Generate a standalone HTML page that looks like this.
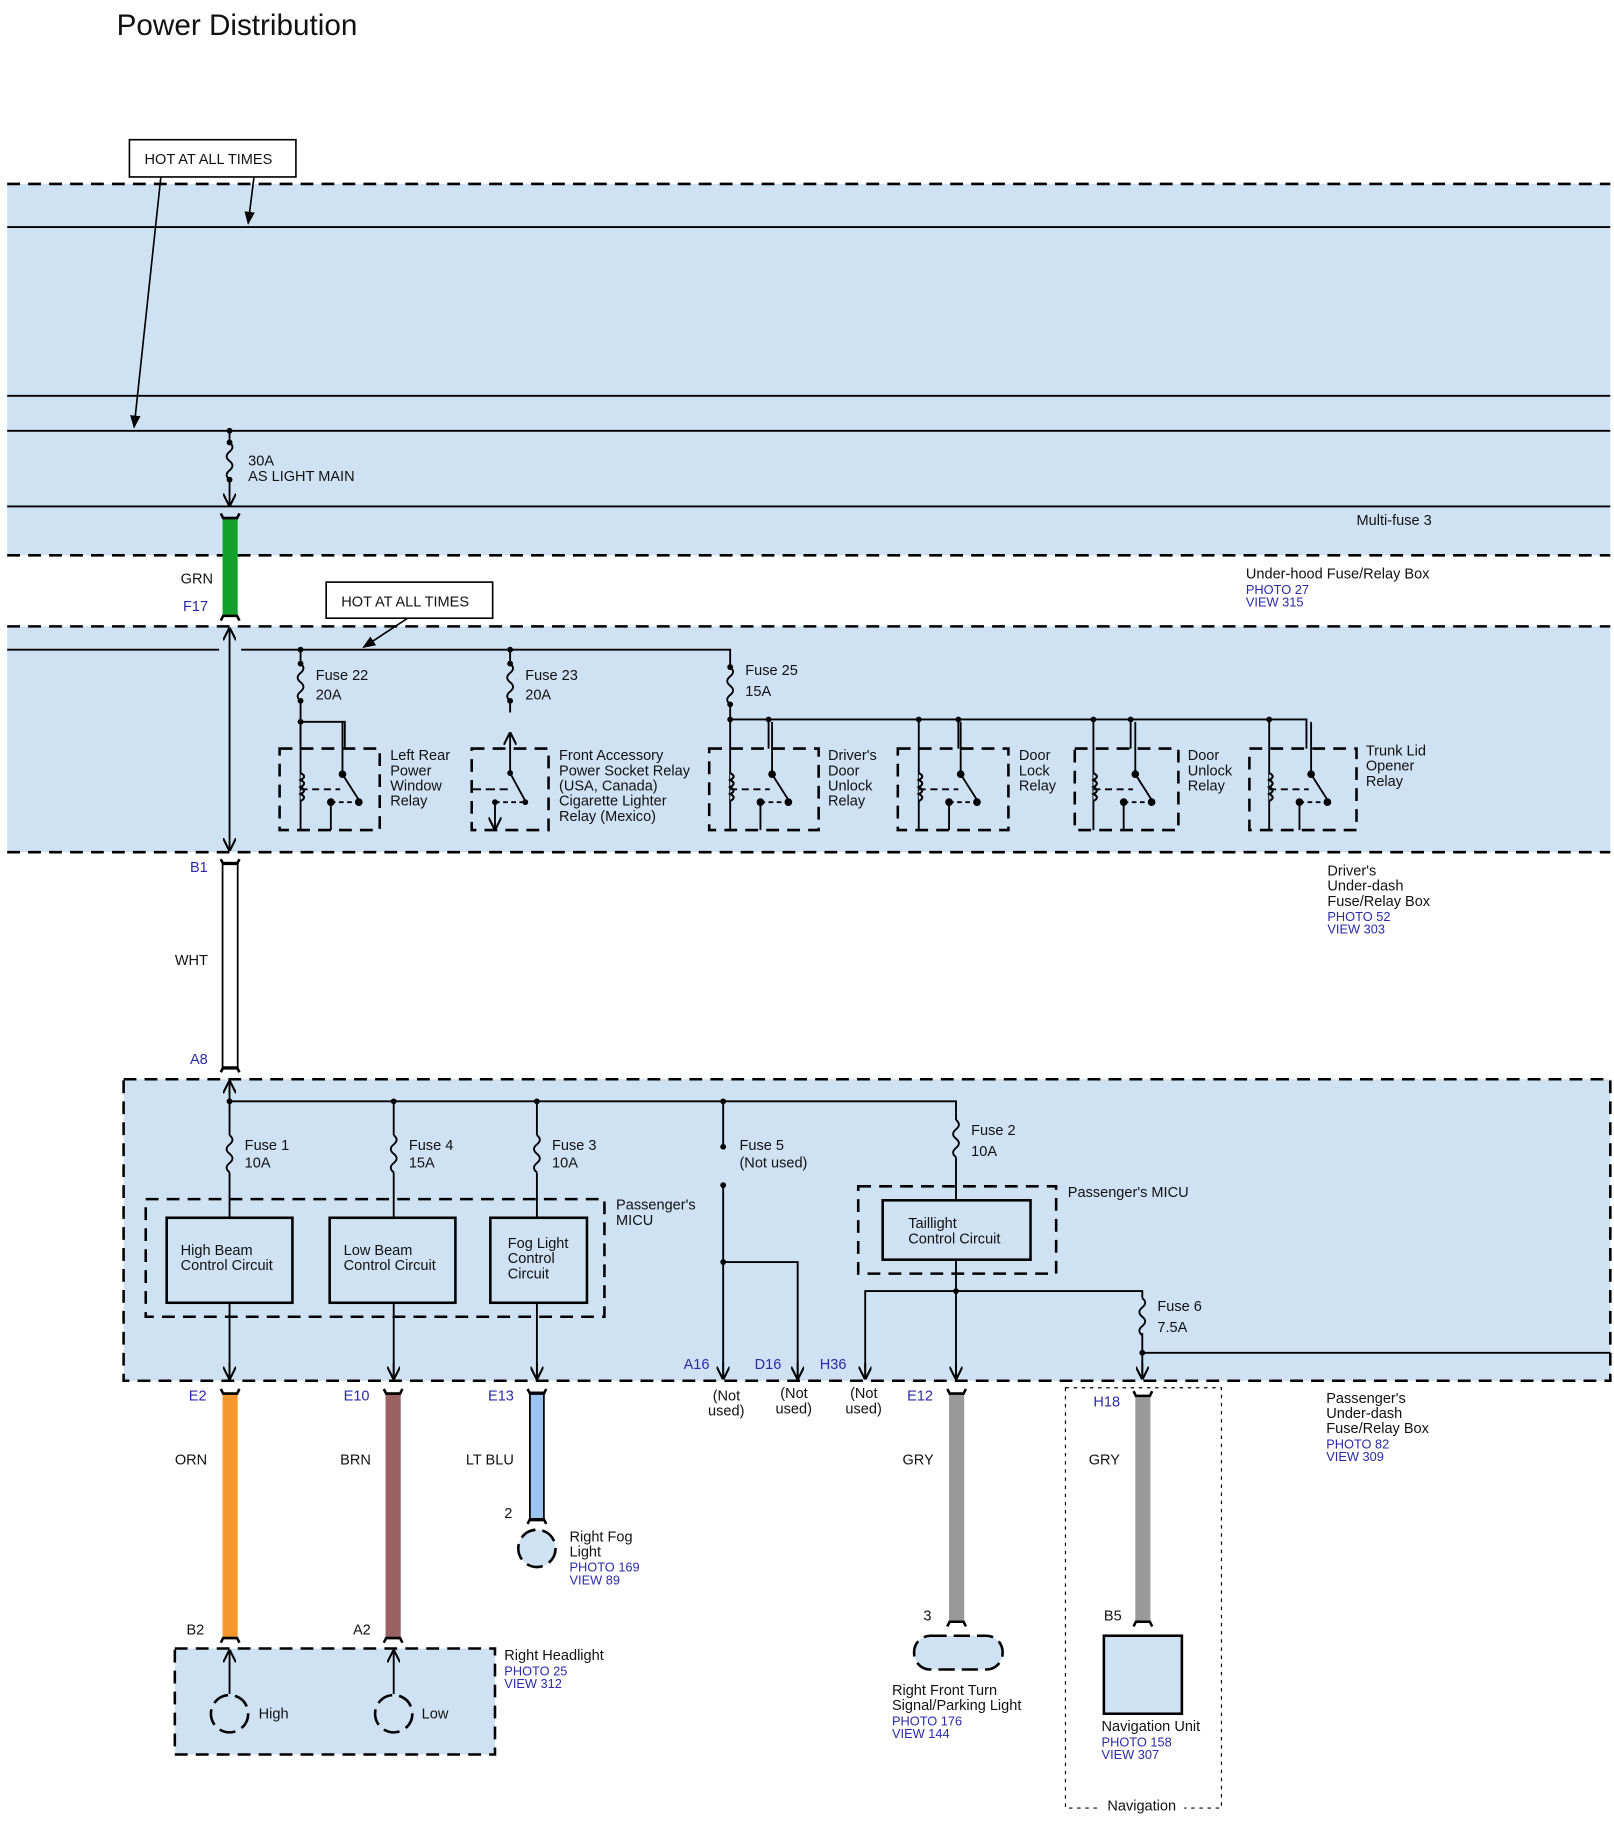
<!DOCTYPE html>
<html><head><meta charset="utf-8"><style>
html,body{margin:0;padding:0;background:#fff}
svg{display:block}
text{font-family:"Liberation Sans",Arial,sans-serif;font-size:12.5px;fill:#111}
.b{fill:#2a2aa8;font-size:11px}
.bl{fill:#2a2aa8;font-size:12.5px}
</style></head><body>
<svg width="1614" height="1822" viewBox="0 0 1386 1565" xmlns="http://www.w3.org/2000/svg">
<defs>
<marker id="ah" viewBox="0 0 10 10" refX="9" refY="5" markerWidth="7" markerHeight="7" orient="auto-start-reverse"><path d="M0,0 L10,5 L0,10" fill="none" stroke="#000" stroke-width="1.6"/></marker>
<marker id="ahf" viewBox="0 0 10 10" refX="9" refY="5" markerWidth="8" markerHeight="8" orient="auto"><path d="M0,1 L10,5 L0,9 z" fill="#000"/></marker>
<g id="relay" fill="none" stroke="#000" stroke-width="1.6">
<path d="M0,0 V93"/>
<path d="M0,44 q6,3 0,6 q6,3 0,6 q6,3 0,6 q6,3 0,6" stroke-width="1.8" fill="#cfe2f3"/>
<path d="M0,58 H34" stroke-dasharray="6,4"/>
<path d="M36,0 V45 L50,67"/>
<path d="M26,69 H50" stroke-dasharray="4,3"/>
<path d="M26,69 V93"/>
<circle cx="36" cy="45" r="2.5" fill="#000"/><circle cx="26" cy="69" r="2.5" fill="#000"/><circle cx="50" cy="69" r="2.5" fill="#000"/>
</g>
<path id="fuse" d="M0,0 q5,4 0,8 q-5,4 0,8 q5,4 0,8 q-5,4 0,8" fill="none" stroke="#000" stroke-width="1.6"/>
<path id="cap" d="M-8,-3 L-6,1 H6 L8,-3" fill="none" stroke="#000" stroke-width="2.2"/>
<path id="capb" d="M-8,3 L-6,-1 H6 L8,3" fill="none" stroke="#000" stroke-width="2.2"/>
</defs>

<text x="100" y="30" style="font-size:25.5px">Power Distribution</text>

<rect x="6" y="158" width="1377" height="319" fill="#cfe2f3"/>
<g stroke="#000" stroke-width="2.2" stroke-dasharray="11,7"><line x1="6" y1="158" x2="1383" y2="158"/><line x1="6" y1="477" x2="1383" y2="477"/></g>
<g stroke="#000" stroke-width="1.6"><line x1="6" y1="195" x2="1383" y2="195"/><line x1="6" y1="340" x2="1383" y2="340"/><line x1="6" y1="370" x2="1383" y2="370"/><line x1="6" y1="435" x2="1383" y2="435"/></g>
<rect x="111" y="120" width="143" height="32" fill="#fff" stroke="#000" stroke-width="1.4"/>
<text x="124" y="141">HOT AT ALL TIMES</text>
<line x1="138" y1="152" x2="115" y2="367" stroke="#000" stroke-width="1.4" marker-end="url(#ahf)"/>
<line x1="218" y1="152" x2="213" y2="192" stroke="#000" stroke-width="1.4" marker-end="url(#ahf)"/>
<circle cx="197" cy="370" r="2.5"/><circle cx="197" cy="380" r="2.5"/>
<line x1="197" y1="370" x2="197" y2="380" stroke="#000" stroke-width="1.6"/>
<use href="#fuse" x="197" y="380"/>
<circle cx="197" cy="412" r="2.5"/>
<line x1="197" y1="412" x2="197" y2="434" stroke="#000" stroke-width="1.6" marker-end="url(#ah)"/>
<text x="213" y="400">30A</text><text x="213" y="413">AS LIGHT MAIN</text>
<text x="1165" y="451">Multi-fuse 3</text>
<text x="1070" y="497">Under-hood Fuse/Relay Box</text>
<text x="1070" y="510" class="b">PHOTO 27</text><text x="1070" y="521" class="b">VIEW 315</text>

<rect x="191" y="444" width="13" height="86" fill="#13a02a"/>
<use href="#cap" x="197.5" y="444"/><use href="#capb" x="197.5" y="530"/>
<text x="155" y="501">GRN</text><text x="157" y="525" class="bl">F17</text>

<rect x="6" y="538" width="1377" height="194" fill="#cfe2f3"/>
<g stroke="#000" stroke-width="2.2" stroke-dasharray="11,7"><line x1="6" y1="538" x2="1383" y2="538"/><line x1="6" y1="732" x2="1383" y2="732"/></g>
<rect x="280" y="500" width="143" height="31" fill="#fff" stroke="#000" stroke-width="1.4"/>
<text x="293" y="521">HOT AT ALL TIMES</text>
<line x1="350" y1="531" x2="312" y2="556" stroke="#000" stroke-width="1.4" marker-end="url(#ahf)"/>
<line x1="197" y1="540" x2="197" y2="730" stroke="#000" stroke-width="1.6" marker-start="url(#ah)" marker-end="url(#ah)"/>
<g fill="none" stroke="#000" stroke-width="1.6">
<path d="M6,558 H188 M207,558 H627 V573"/>
<path d="M258,558 V570 M258,602 V620 H296 V643 M258,620 V643"/>
<path d="M438,558 V570 M438,602 V612"/>
<path d="M627,605 V618 H1090"/>
</g>
<use href="#fuse" x="258" y="570"/><use href="#fuse" x="438" y="570"/><use href="#fuse" x="627" y="573"/>
<g fill="#000"><circle cx="258" cy="558" r="2.5"/><circle cx="258" cy="570" r="2.5"/><circle cx="258" cy="602" r="2.5"/><circle cx="258" cy="620" r="2.5"/>
<circle cx="438" cy="558" r="2.5"/><circle cx="438" cy="570" r="2.5"/><circle cx="438" cy="602" r="2.5"/>
<circle cx="627" cy="573" r="2.5"/><circle cx="627" cy="605" r="2.5"/><circle cx="627" cy="618" r="2.5"/><circle cx="660" cy="618" r="2.5"/><circle cx="789" cy="618" r="2.5"/><circle cx="823" cy="618" r="2.5"/><circle cx="939" cy="618" r="2.5"/><circle cx="971" cy="618" r="2.5"/><circle cx="1090" cy="618" r="2.5"/></g>
<g fill="none" stroke="#000" stroke-width="1.6"><path d="M660,618 V643 M823,618 V643 M971,618 V643 M1090,618 H1122 V643"/></g>
<text x="271" y="584">Fuse 22</text><text x="271" y="601">20A</text>
<text x="451" y="584">Fuse 23</text><text x="451" y="601">20A</text>
<text x="640" y="580">Fuse 25</text><text x="640" y="598">15A</text>
<g fill="none" stroke="#000" stroke-width="2.2" stroke-dasharray="11,7">
<rect x="240" y="643" width="86" height="70"/><rect x="405" y="643" width="66" height="70"/>
<rect x="609" y="643" width="94" height="70"/><rect x="771" y="643" width="95" height="70"/>
<rect x="923" y="643" width="89" height="70"/><rect x="1073" y="643" width="92" height="70"/></g>
<use href="#relay" x="258" y="620"/>
<use href="#relay" x="627" y="620"/>
<use href="#relay" x="789" y="620"/><use href="#relay" x="939" y="620"/><use href="#relay" x="1090" y="620"/>
<g fill="none" stroke="#000" stroke-width="1.6">
<line x1="438" y1="664" x2="438" y2="630" marker-end="url(#ah)"/>
<path d="M438,664 L451,688"/><path d="M425,689 H451" stroke-dasharray="4,3"/><path d="M405,678 H436" stroke-dasharray="8,4"/>
<line x1="425" y1="689" x2="425" y2="712" marker-end="url(#ah)"/>
</g>
<g fill="#000"><circle cx="438" cy="664" r="2.5"/><circle cx="425" cy="689" r="2.5"/><circle cx="451" cy="689" r="2.5"/></g>
<g><text x="335" y="653">Left Rear</text><text x="335" y="666">Power</text><text x="335" y="679">Window</text><text x="335" y="692">Relay</text>
<text x="480" y="653">Front Accessory</text><text x="480" y="666">Power Socket Relay</text><text x="480" y="679">(USA, Canada)</text><text x="480" y="692">Cigarette Lighter</text><text x="480" y="705">Relay (Mexico)</text>
<text x="711" y="653">Driver's</text><text x="711" y="666">Door</text><text x="711" y="679">Unlock</text><text x="711" y="692">Relay</text>
<text x="875" y="653">Door</text><text x="875" y="666">Lock</text><text x="875" y="679">Relay</text>
<text x="1020" y="653">Door</text><text x="1020" y="666">Unlock</text><text x="1020" y="679">Relay</text>
<text x="1173" y="649">Trunk Lid</text><text x="1173" y="662">Opener</text><text x="1173" y="675">Relay</text></g>
<text x="1140" y="752">Driver's</text><text x="1140" y="765">Under-dash</text><text x="1140" y="778">Fuse/Relay Box</text>
<text x="1140" y="791" class="b">PHOTO 52</text><text x="1140" y="802" class="b">VIEW 303</text>

<rect x="191" y="741" width="13" height="177" fill="#fff" stroke="#000" stroke-width="1.5"/>
<use href="#cap" x="197.5" y="741"/><use href="#capb" x="197.5" y="918"/>
<text x="163" y="749" class="bl">B1</text><text x="150" y="829">WHT</text><text x="163" y="914" class="bl">A8</text>

<rect x="106" y="927" width="1277" height="259" fill="#cfe2f3" stroke="#000" stroke-width="2.2" stroke-dasharray="11,7"/>
<g fill="none" stroke="#000" stroke-width="1.6">
<path d="M197,929 V975 M197,1007 V1046 M197,1119 V1184"/>
<path d="M197,946 H821 V962 M821,994 V1031 M821,1082 V1184"/>
<path d="M338,946 V975 M338,1007 V1046 M338,1119 V1184"/>
<path d="M461,946 V975 M461,1007 V1046 M461,1119 V1184"/>
<path d="M621,946 V985 M621,1018 V1184 M621,1084 H685 V1184"/>
<path d="M743,1184 V1109 H981 V1115 M981,1145 V1184 M981,1162 H1383"/>
</g>
<g stroke="#000" stroke-width="1.6" fill="none"><line x1="197" y1="1170" x2="197" y2="1184" marker-end="url(#ah)"/><line x1="338" y1="1170" x2="338" y2="1184" marker-end="url(#ah)"/><line x1="461" y1="1170" x2="461" y2="1184" marker-end="url(#ah)"/><line x1="621" y1="1170" x2="621" y2="1184" marker-end="url(#ah)"/><line x1="685" y1="1170" x2="685" y2="1184" marker-end="url(#ah)"/><line x1="743" y1="1170" x2="743" y2="1184" marker-end="url(#ah)"/><line x1="821" y1="1170" x2="821" y2="1184" marker-end="url(#ah)"/><line x1="981" y1="1170" x2="981" y2="1184" marker-end="url(#ah)"/><line x1="197" y1="940" x2="197" y2="929" marker-end="url(#ah)"/></g>
<use href="#fuse" x="197" y="975"/><use href="#fuse" x="338" y="975"/><use href="#fuse" x="461" y="975"/><use href="#fuse" x="821" y="962"/><use href="#fuse" x="981" y="1115"/>
<g fill="#000"><circle cx="197" cy="946" r="2.5"/><circle cx="338" cy="946" r="2.5"/><circle cx="461" cy="946" r="2.5"/><circle cx="621" cy="946" r="2.5"/>
<circle cx="621" cy="985" r="2.5"/><circle cx="621" cy="1018" r="2.5"/><circle cx="621" cy="1084" r="2.5"/><circle cx="821" cy="1109" r="2.5"/><circle cx="981" cy="1162" r="2.5"/></g>
<text x="210" y="988">Fuse 1</text><text x="210" y="1003">10A</text>
<text x="351" y="988">Fuse 4</text><text x="351" y="1003">15A</text>
<text x="474" y="988">Fuse 3</text><text x="474" y="1003">10A</text>
<text x="635" y="988">Fuse 5</text><text x="635" y="1003">(Not used)</text>
<text x="834" y="975">Fuse 2</text><text x="834" y="993">10A</text>
<text x="994" y="1126">Fuse 6</text><text x="994" y="1144">7.5A</text>
<rect x="125" y="1030" width="394" height="101" fill="none" stroke="#000" stroke-width="2.2" stroke-dasharray="11,7"/>
<g fill="none" stroke="#000" stroke-width="2.2"><rect x="143" y="1046" width="108" height="73"/><rect x="283" y="1046" width="108" height="73"/><rect x="421" y="1046" width="83" height="73"/><rect x="758" y="1031" width="127" height="51"/></g>
<rect x="737" y="1019" width="170" height="75" fill="none" stroke="#000" stroke-width="2.2" stroke-dasharray="11,7"/>
<text x="155" y="1078">High Beam</text><text x="155" y="1091">Control Circuit</text>
<text x="295" y="1078">Low Beam</text><text x="295" y="1091">Control Circuit</text>
<text x="436" y="1072">Fog Light</text><text x="436" y="1085">Control</text><text x="436" y="1098">Circuit</text>
<text x="780" y="1055">Taillight</text><text x="780" y="1068">Control Circuit</text>
<text x="529" y="1039">Passenger's</text><text x="529" y="1052">MICU</text>
<text x="917" y="1028">Passenger's MICU</text>
<text x="1139" y="1205">Passenger's</text><text x="1139" y="1218">Under-dash</text><text x="1139" y="1231">Fuse/Relay Box</text>
<text x="1139" y="1244" class="b">PHOTO 82</text><text x="1139" y="1255" class="b">VIEW 309</text>

<rect x="191" y="1196" width="13" height="212" fill="#f7962b"/>
<rect x="331" y="1196" width="13" height="212" fill="#9b6060"/>
<rect x="455" y="1196" width="12" height="110" fill="#9cc4f0" stroke="#000" stroke-width="1.5"/>
<rect x="815" y="1196" width="13" height="198" fill="#999"/>
<rect x="975" y="1198" width="13" height="196" fill="#999"/>
<use href="#cap" x="197.5" y="1196"/><use href="#capb" x="197.5" y="1408"/>
<use href="#cap" x="337.5" y="1196"/><use href="#capb" x="337.5" y="1408"/>
<use href="#cap" x="461" y="1196"/><use href="#capb" x="461" y="1306"/>
<use href="#cap" x="821.5" y="1196"/><use href="#capb" x="821.5" y="1394"/>
<use href="#cap" x="981.5" y="1198"/><use href="#capb" x="981.5" y="1394"/>
<text x="162" y="1203" class="bl">E2</text><text x="295" y="1203" class="bl">E10</text><text x="419" y="1203" class="bl">E13</text>
<text x="587" y="1176" class="bl">A16</text><text x="648" y="1176" class="bl">D16</text><text x="704" y="1176" class="bl">H36</text>
<text x="779" y="1203" class="bl">E12</text><text x="939" y="1208" class="bl">H18</text>
<text x="612" y="1203">(Not</text><text x="608" y="1216">used)</text>
<text x="670" y="1201">(Not</text><text x="666" y="1214">used)</text>
<text x="730" y="1201">(Not</text><text x="726" y="1214">used)</text>
<text x="150" y="1258">ORN</text><text x="292" y="1258">BRN</text><text x="400" y="1258">LT BLU</text>
<text x="775" y="1258">GRY</text><text x="935" y="1258">GRY</text>
<text x="433" y="1304">2</text><text x="793" y="1392">3</text><text x="948" y="1392">B5</text>
<text x="160" y="1404">B2</text><text x="303" y="1404">A2</text>

<circle cx="461" cy="1330" r="16" fill="#cfe2f3" stroke="#000" stroke-width="2.2" stroke-dasharray="14,6"/>
<text x="489" y="1324">Right Fog</text><text x="489" y="1337">Light</text>
<text x="489" y="1350" class="b">PHOTO 169</text><text x="489" y="1361" class="b">VIEW 89</text>

<rect x="150" y="1416" width="275" height="91" fill="#cfe2f3" stroke="#000" stroke-width="2.2" stroke-dasharray="11,7"/>
<g fill="none" stroke="#000" stroke-width="1.6"><line x1="197" y1="1455" x2="197" y2="1418" marker-end="url(#ah)"/><line x1="338" y1="1455" x2="338" y2="1418" marker-end="url(#ah)"/></g>
<circle cx="197" cy="1472" r="16" fill="none" stroke="#000" stroke-width="2.2" stroke-dasharray="14,6"/>
<circle cx="338" cy="1472" r="16" fill="none" stroke="#000" stroke-width="2.2" stroke-dasharray="14,6"/>
<text x="222" y="1476">High</text><text x="362" y="1476">Low</text>
<text x="433" y="1426">Right Headlight</text><text x="433" y="1439" class="b">PHOTO 25</text><text x="433" y="1450" class="b">VIEW 312</text>

<rect x="785" y="1405" width="76" height="29" rx="14" fill="#cfe2f3" stroke="#000" stroke-width="2.2" stroke-dasharray="14,6"/>
<text x="766" y="1456">Right Front Turn</text><text x="766" y="1469">Signal/Parking Light</text>
<text x="766" y="1482" class="b">PHOTO 176</text><text x="766" y="1493" class="b">VIEW 144</text>

<rect x="915" y="1192" width="134" height="361" fill="none" stroke="#000" stroke-width="1" stroke-dasharray="3,4"/>
<rect x="948" y="1405" width="67" height="67" fill="#cfe2f3" stroke="#000" stroke-width="2.2"/>
<text x="946" y="1487">Navigation Unit</text><text x="946" y="1500" class="b">PHOTO 158</text><text x="946" y="1511" class="b">VIEW 307</text>
<rect x="945" y="1543" width="72" height="16" fill="#fff"/>
<text x="951" y="1555">Navigation</text>
</svg>
</body></html>
